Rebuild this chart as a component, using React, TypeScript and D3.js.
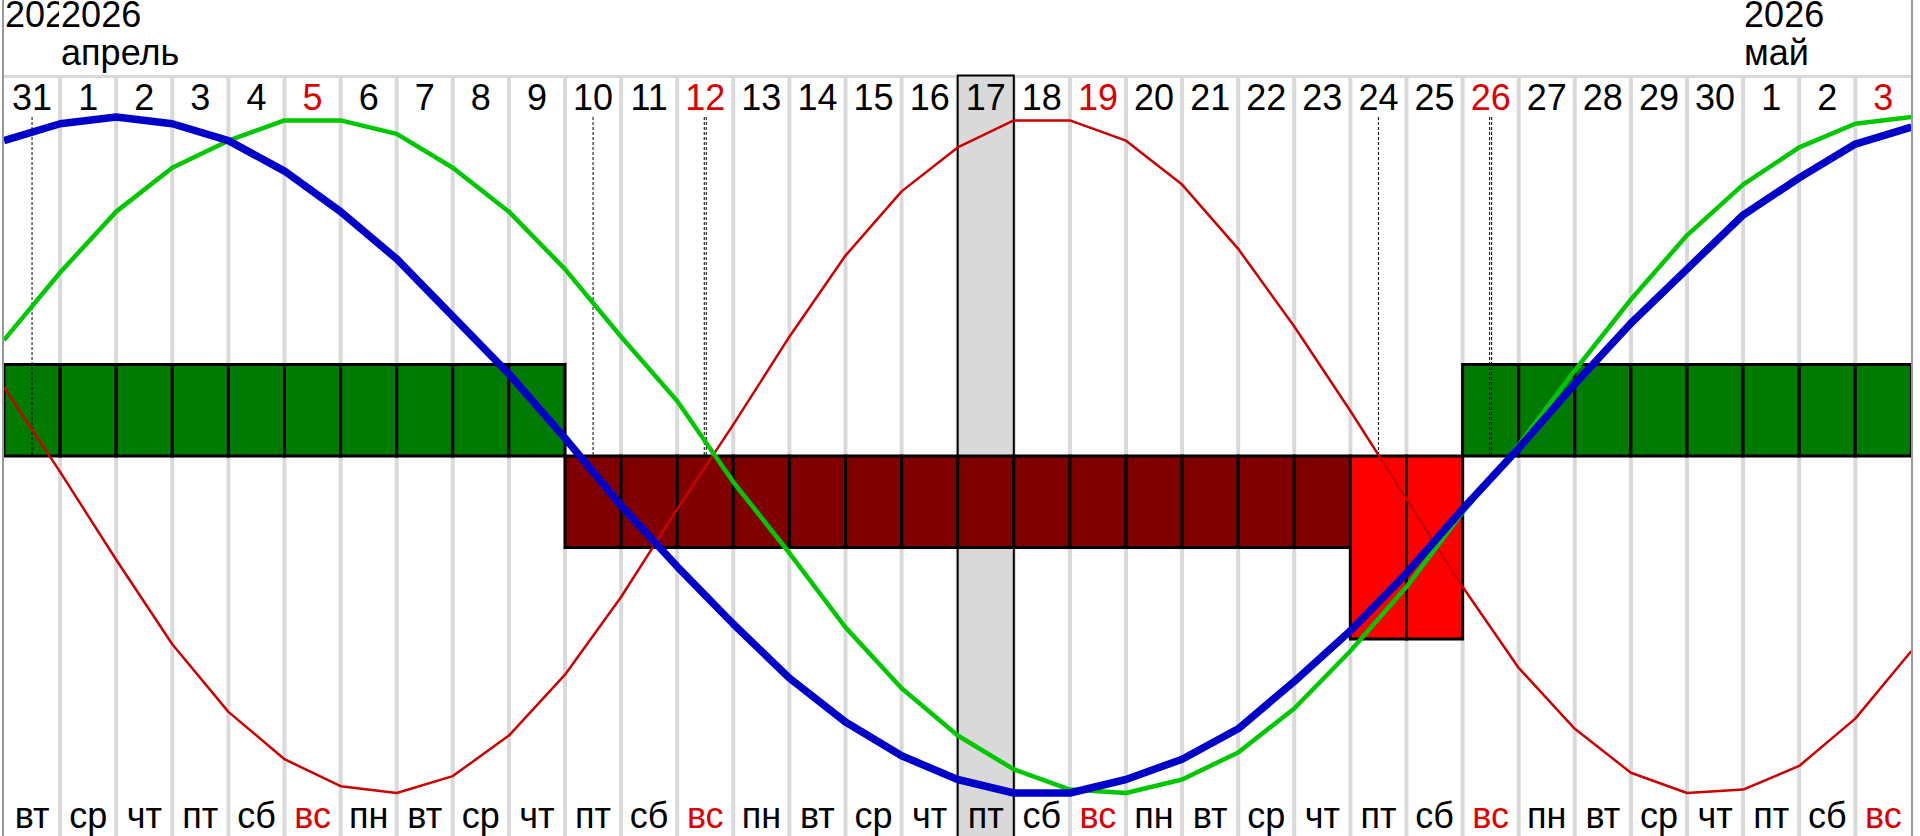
import * as d3 from "d3";
import { useEffect } from "react";

// days shown, 31 March .. 3 May 2026
const days = [31, 1, 2, 3, 4, 5, 6, 7, 8, 9, 10, 11, 12, 13, 14, 15, 16, 17, 18, 19, 20, 21, 22, 23, 24, 25, 26, 27, 28, 29, 30, 1, 2, 3];
const weekdays = ["вт", "ср", "чт", "пт", "сб", "вс", "пн", "вт", "ср", "чт", "пт", "сб", "вс", "пн", "вт", "ср", "чт", "пт", "сб", "вс", "пн", "вт", "ср", "чт", "пт", "сб", "вс", "пн", "вт", "ср", "чт", "пт", "сб", "вс"];

// curve values (%) at day boundaries, 35 points
const physical = [20, -5, -31, -56, -76, -90, -98, -100, -95, -83, -65, -42, -16, 9, 35, 59, 78, 91, 99, 99, 93, 80, 61, 38, 13, -13, -39, -63, -81, -94, -100, -99, -92, -78, -58];
const emotional = [34, 54, 72, 85, 93, 99, 99, 95, 85, 72, 55, 35, 16, -8, -29, -51, -69, -83, -93, -99, -100, -96, -88, -75, -58, -39, -17, 3, 25, 46, 65, 80, 91, 98, 100];
const intellectual = [93, 98, 100, 98, 93, 84, 72, 58, 41, 24, 5, -15, -33, -50, -66, -79, -89, -96, -100, -100, -96, -90, -81, -67, -52, -35, -16, 2, 21, 39, 55, 71, 82, 92, 97];

// day blocks
const blocks = [1, 1, 1, 1, 1, 1, 1, 1, 1, 1, -1, -1, -1, -1, -1, -1, -1, -1, -1, -1, -1, -1, -1, -1, -2, -2, 1, 1, 1, 1, 1, 1, 1, 1];

// critical days (column index) and how many cycles cross zero there
const criticalIdx = [0, 10, 12, 24, 26];
const criticalCount = [1, 1, 2, 1, 2];

const todayIdx = 17;

const monthIdx = [0, 1, 31];
const monthYears = ["2026", "2026", "2026"];
const monthNames = ["", "апрель", "май"];

const W = 1920;
const H = 836;
const FONT = "'Liberation Sans', Arial, sans-serif";

export default function App() {
  useEffect(() => {
    document.body.style.margin = "0";
  }, []);

  const n = days.length;
  const left = 4;
  const right = 1911.4;

  const xEdge = d3.scaleLinear().domain([0, n]).range([left, right]);
  const xBand = d3
    .scaleBand<number>()
    .domain(d3.range(n))
    .range([left, right])
    .padding(0);
  const yCurve = d3.scaleLinear().domain([-100, 100]).range([793, 117]);
  const yBlock = d3.scaleLinear().domain([-2, 1]).range([639, 364.5]);

  const line = d3
    .line<number>()
    .x((_, i) => xEdge(i))
    .y((d) => yCurve(d));

  const blockColor = (v: number) => {
    if (v > 0) return "#007a00";
    if (v === -1) return "#800000";
    return "#ff0000";
  };

  const textColor = (i: number) => (weekdays[i] === "вс" ? "#dd0000" : "#000");

  return (
    <svg
      width={W}
      height={H}
      style={{ display: "block", position: "absolute", left: 0, top: 0 }}
      fontFamily={FONT}
    >
      <defs>
        <clipPath id="clip-m0">
          <rect x={0} y={0} width={xEdge(1) - 1} height={75} />
        </clipPath>
      </defs>
      <rect width={W} height={H} fill="#fff" />

      {/* column separators */}
      {d3.range(1, n).map((k) => (
        <line
          key={`sep${k}`}
          x1={xEdge(k)}
          x2={xEdge(k)}
          y1={76}
          y2={H}
          stroke="#d9d9d9"
          strokeWidth={4}
        />
      ))}
      <line x1={left} x2={right} y1={76.5} y2={76.5} stroke="#d9d9d9" strokeWidth={3} />

      {/* today */}
      <rect
        x={xBand(todayIdx)!}
        y={75.5}
        width={xBand.bandwidth()}
        height={H}
        fill="#d9d9d9"
        stroke="#000"
        strokeWidth={2}
      />

      {/* blocks */}
      {blocks.map((v, i) => (
        <rect
          key={`b${i}`}
          x={xBand(i)!}
          y={yBlock(Math.max(v, 0))}
          width={xBand.bandwidth()}
          height={Math.abs(yBlock(v) - yBlock(0))}
          fill={blockColor(v)}
          stroke="#000"
          strokeWidth={3}
        />
      ))}

      {/* critical days */}
      {criticalIdx.map((idx, j) =>
        d3.range(criticalCount[j]).map((c) => {
          const cx = xBand(idx)! + xBand.bandwidth() / 2 + (criticalCount[j] > 1 ? c * 2 - 1 : 0);
          return (
            <line
              key={`c${idx}-${c}`}
              x1={cx}
              x2={cx}
              y1={117}
              y2={yBlock(0)}
              stroke="#000"
              strokeWidth={1}
              strokeDasharray="3,2"
            />
          );
        })
      )}

      {/* cycles */}
      <path d={line(physical)!} fill="none" stroke="#cc0000" strokeWidth={2.5} strokeLinejoin="round" />
      <path d={line(emotional)!} fill="none" stroke="#00c800" strokeWidth={4.5} strokeLinejoin="round" />
      <path d={line(intellectual)!} fill="none" stroke="#0000c8" strokeWidth={7.5} strokeLinejoin="round" />

      {/* borders */}
      <line x1={3} x2={3} y1={0} y2={H} stroke="#999" strokeWidth={2} />
      <line x1={1912} x2={1912} y1={0} y2={H} stroke="#999" strokeWidth={2} />

      {/* month header */}
      {monthIdx.map((idx, j) => (
        <g key={`m${j}`} clipPath={j === 0 ? "url(#clip-m0)" : undefined}>
          <text x={xEdge(idx) + 1} y={27} fontSize={36} fill="#000">
            {monthYears[j]}
          </text>
          <text x={xEdge(idx) + 1} y={65} fontSize={36} fill="#000">
            {monthNames[j]}
          </text>
        </g>
      ))}

      {/* day numbers */}
      {days.map((d, i) => (
        <text
          key={`d${i}`}
          x={xBand(i)! + xBand.bandwidth() / 2}
          y={110}
          fontSize={36}
          textAnchor="middle"
          fill={textColor(i)}
        >
          {d}
        </text>
      ))}

      {/* weekdays */}
      {weekdays.map((w, i) => (
        <text
          key={`w${i}`}
          x={xBand(i)! + xBand.bandwidth() / 2}
          y={828}
          fontSize={36}
          textAnchor="middle"
          fill={textColor(i)}
        >
          {w}
        </text>
      ))}
    </svg>
  );
}
